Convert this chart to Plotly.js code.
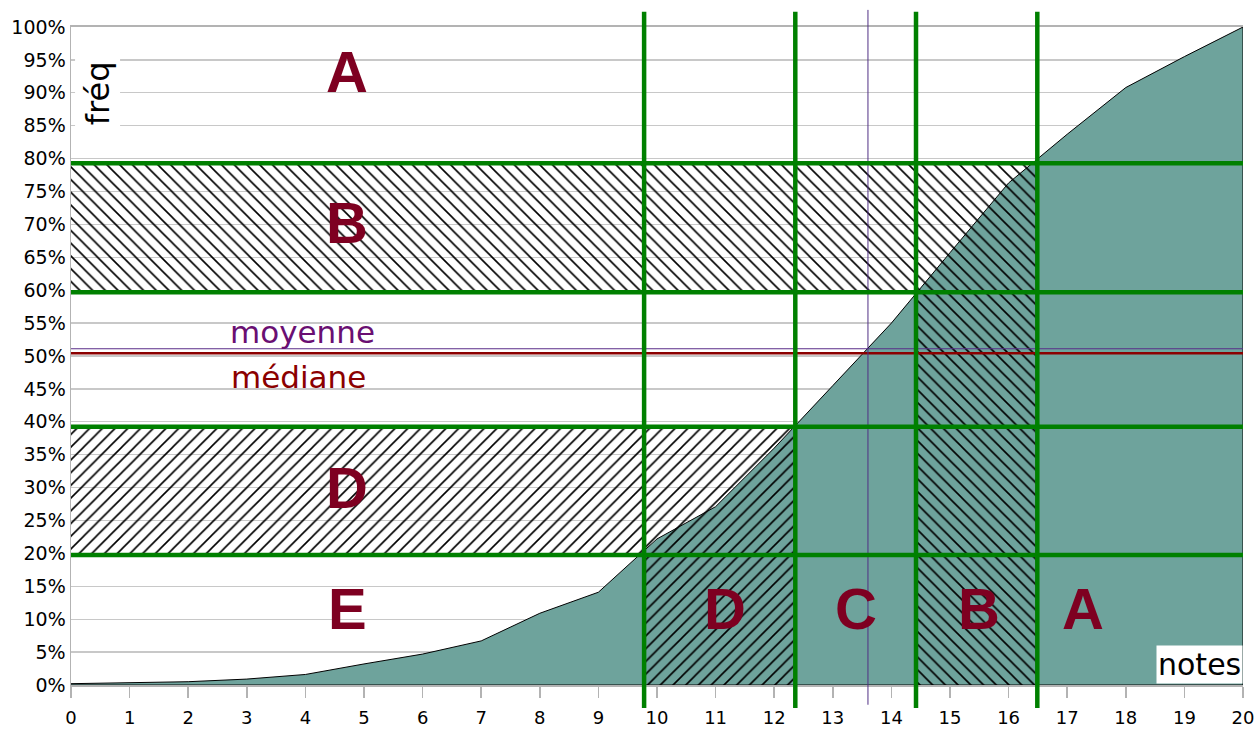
<!DOCTYPE html>
<html>
<head>
<meta charset="utf-8">
<script src="https://cdn.plot.ly/plotly-3.0.1.min.js"></script>
<style>
html,body{margin:0;padding:0;background:#ffffff;}
#chart{width:1260px;height:729px;}
</style>
</head>
<body>
<div id="chart"></div>
<script>
// ---- data ----
const grades = [0,1,2,3,4,5,6,7,8,9,10,11,12,13,14,15,16,17,18,19,20];
const cumFreq = [0.2,0.3,0.5,0.9,1.6,3.2,4.7,6.7,10.9,14.1,22.2,27.1,36.0,45.5,55.0,65.7,76.3,83.7,90.8,95.5,100];
const quintileFreq = [19.75, 39.25, 59.7, 79.3];
const gradeCuts = [9.78, 12.36, 14.42, 16.49];
const meanGrade = 13.6;
const meanFreq = 51.1;
const medianFreq = 50.4;
const leftLetters = ['A','B','D','E'];
const leftLetterFreq = [93.3, 70.3, 30.0, 11.6];
const bottomLetters = ['D','C','B','A'];
const bottomLetterGrade = [11.16, 13.39, 15.49, 17.27];
const yTickVals = [0,5,10,15,20,25,30,35,40,45,50,55,60,65,70,75,80,85,90,95,100];

// ---- styles ----
const TEAL = '#6ea39c';
const GREEN = '#008000';
const LETTER = '#7e0021';
const FONT = 'DejaVu Sans, Liberation Sans, sans-serif';

const xMin = grades[0], xMax = grades[grades.length-1];

// area under cumulative curve (closed polygon)
const area = {
  x: grades.concat([xMax, xMin]),
  y: cumFreq.concat([0, 0]),
  type: 'scatter', mode: 'lines', fill: 'toself',
  fillcolor: TEAL, line: {color: '#000000', width: 1},
  hoverinfo: 'skip', showlegend: false
};

function lShape(qLow, qHigh, cLeft, cRight){
  return {
    x: [xMin, cLeft, cLeft, cRight, cRight, xMin, xMin],
    y: [qLow, qLow, 0, 0, qHigh, qHigh, qLow]
  };
}
const bPoly = lShape(quintileFreq[2], quintileFreq[3], gradeCuts[2], gradeCuts[3]);
const dPoly = lShape(quintileFreq[0], quintileFreq[1], gradeCuts[0], gradeCuts[1]);

function hatch(poly, shape){
  return {
    x: poly.x, y: poly.y, type: 'scatter', mode: 'none', fill: 'toself',
    fillcolor: 'rgba(0,0,0,0)',
    fillpattern: {shape: shape, fgcolor: '#000000', bgcolor: 'rgba(0,0,0,0)', size: 9, solidity: 0.18, fillmode: 'replace'},
    hoverinfo: 'skip', showlegend: false
  };
}

const data = [area, hatch(bPoly, '\\'), hatch(dPoly, '/')];

const shapes = [];
// median & mean horizontal lines
shapes.push({type:'line', xref:'x', yref:'y', x0:xMin, x1:xMax, y0:meanFreq, y1:meanFreq, line:{color:'#5a2d88', width:1}});
shapes.push({type:'line', xref:'x', yref:'y', x0:xMin, x1:xMax, y0:medianFreq, y1:medianFreq, line:{color:'#8b0000', width:2.5}});
// mean vertical line
shapes.push({type:'line', xref:'x', yref:'paper', x0:meanGrade, x1:meanGrade, y0:-0.03, y1:1.026, line:{color:'#4f2f85', width:1}});
// green quintile lines
quintileFreq.forEach(q => shapes.push({type:'line', xref:'x', yref:'y', x0:xMin, x1:xMax, y0:q, y1:q, line:{color:GREEN, width:4.5}}));
gradeCuts.forEach(c => shapes.push({type:'line', xref:'x', yref:'paper', x0:c, x1:c, y0:-0.035, y1:1.023, line:{color:GREEN, width:4.5}}));

const annotations = [];
leftLetters.forEach((t,i) => annotations.push({
  x: 4.71, y: leftLetterFreq[i], xref:'x', yref:'y', text: t, showarrow:false,
  xanchor:'center', yanchor:'middle',
  font:{family:'Liberation Sans, Arial, sans-serif', size:58, color:LETTER, weight:'bold'}
}));
bottomLetters.forEach((t,i) => annotations.push({
  x: bottomLetterGrade[i], y: 11.6, xref:'x', yref:'y', text: t, showarrow:false,
  xanchor:'center', yanchor:'middle',
  font:{family:'Liberation Sans, Arial, sans-serif', size:58, color:LETTER, weight:'bold'}
}));
annotations.push({x:3.95, y:53.7, xref:'x', yref:'y', text:'moyenne', showarrow:false,
  font:{family:FONT, size:31, color:'#6a0f72'}});
annotations.push({x:3.89, y:46.8, xref:'x', yref:'y', text:'médiane', showarrow:false,
  font:{family:FONT, size:31, color:'#8b0000'}});
annotations.push({x:0.0225, y:90.0, xref:'paper', yref:'y', text:'fréq', showarrow:false,
  textangle:-90, bgcolor:'#ffffff', borderpad:3, xanchor:'center', yanchor:'middle',
  font:{family:FONT, size:32, color:'#000000'}});
annotations.push({x:xMax, y:0, xref:'x', yref:'y', text:'notes', showarrow:false,
  xanchor:'right', yanchor:'bottom', bgcolor:'#ffffff', borderpad:1, yshift:1,
  font:{family:FONT, size:30, color:'#000000'}});

const layout = {
  width:1260, height:729,
  margin:{l:71, r:17, t:27, b:44},
  paper_bgcolor:'#ffffff', plot_bgcolor:'#ffffff',
  showlegend:false,
  xaxis:{
    range:[xMin, xMax], tickmode:'array', tickvals:grades, ticktext:grades.map(String),
    ticks:'outside', ticklen:11, tickcolor:'#b3b3b3', tickwidth:1.5,
    showline:true, linecolor:'#b3b3b3', linewidth:2, mirror:true,
    showgrid:false, zeroline:false, ticklabelstandoff:4,
    tickfont:{family:FONT, size:18, color:'#000000'}, fixedrange:true
  },
  yaxis:{
    range:[0,100], tickmode:'array', tickvals:yTickVals, ticktext:yTickVals.map(v => v + '%'),
    ticks:'', showline:true, linecolor:'#b3b3b3', linewidth:1.5,
    showgrid:true, gridcolor:'#c8c8c8', gridwidth:1.3, zeroline:false,
    tickfont:{family:FONT, size:19, color:'#000000'}, fixedrange:true
  },
  shapes: shapes,
  annotations: annotations
};

Plotly.newPlot('chart', data, layout, {displayModeBar:false, staticPlot:true});
</script>
</body>
</html>
